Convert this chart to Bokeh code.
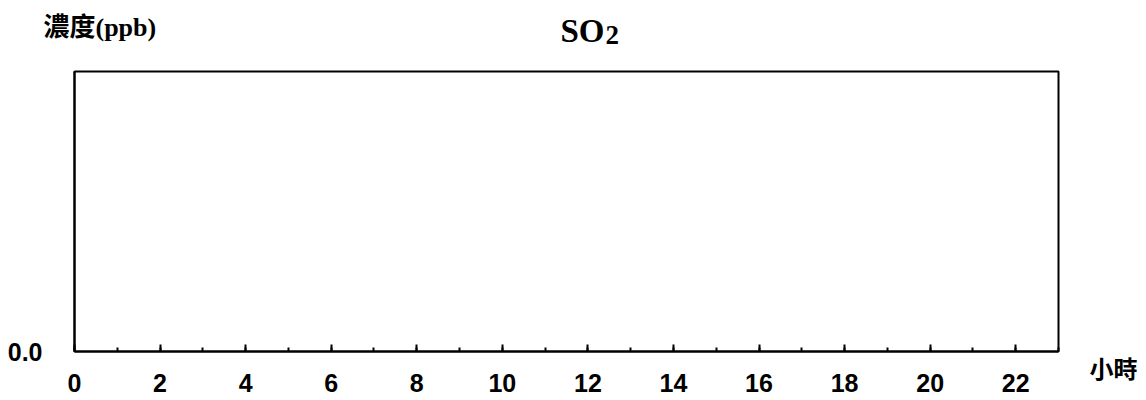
from bokeh.plotting import figure
from bokeh.layouts import column, row
from bokeh.models import (Label, SingleIntervalTicker, FixedTicker, PrintfTickFormatter,
                          Range1d, LinearAxis)
from bokeh.embed import file_html
from bokeh.resources import INLINE

# Data (chart is empty: no measurements)
hours = []
so2_ppb = []
y_ticks = [0.0]
title_main = "SO"
title_sub = "2"
y_title = "濃度(ppb)"
x_title = "小時"

TOTAL_W = 1144
TOP_H = 67
FL, FW, FH = 74, 984, 280
BT, BB = 4, 48
MAIN_W = FL + FW + 4
MAIN_H = BT + FH + BB


def text_panel(w, h, **kw):
    f = figure(width=w, height=h, output_backend="svg", toolbar_location=None,
               x_range=Range1d(0, w), y_range=Range1d(h, 0),
               x_axis_type=None, y_axis_type=None, **kw)
    f.outline_line_color = None
    f.xgrid.visible = False
    f.ygrid.visible = False
    f.background_fill_color = "white"
    f.border_fill_color = "white"
    return f


# Top strip: y-axis title and chart title
top = text_panel(TOTAL_W, TOP_H, min_border_left=0, min_border_right=0,
                 min_border_top=0, min_border_bottom=0)
top.add_layout(Label(x=43, y=27, text=y_title,
                     text_font="'Liberation Serif', 'Noto Sans CJK TC'", text_font_style="bold",
                     text_font_size="26px", text_align="left", text_baseline="middle",
                     text_color="black"))
top.add_layout(Label(x=560, y=30, text=title_main,
                     text_font="Liberation Serif", text_font_style="bold", text_font_size="33px",
                     text_align="left", text_baseline="middle", text_color="black"))
top.add_layout(Label(x=605, y=34, text=title_sub,
                     text_font="Liberation Serif", text_font_style="bold", text_font_size="27px",
                     text_align="left", text_baseline="middle", text_color="black"))

# Main plot
p = figure(frame_width=FW, frame_height=FH, output_backend="svg", toolbar_location=None,
           x_range=Range1d(0, 23), y_range=Range1d(0, 1),
           min_border_left=FL, min_border_top=BT, min_border_right=4, min_border_bottom=BB)
p.background_fill_color = "white"
p.border_fill_color = "white"
p.outline_line_color = "black"
p.outline_line_width = 2
p.xgrid.visible = False
p.ygrid.visible = False

if hours:
    p.line(hours, so2_ppb, line_color="black")

xa = p.xaxis[0]
xa.ticker = SingleIntervalTicker(interval=2, num_minor_ticks=2)
xa.axis_line_color = "black"
xa.axis_line_width = 2
xa.major_tick_in = 7
xa.major_tick_out = 0
xa.minor_tick_in = 4
xa.minor_tick_out = 0
xa.major_tick_line_width = 2
xa.minor_tick_line_width = 2
xa.major_label_standoff = 22
xa.major_label_text_font = "Liberation Sans"
xa.major_label_text_font_style = "bold"
xa.major_label_text_font_size = "25px"
xa.major_label_text_color = "black"

ya = p.yaxis[0]
ya.ticker = FixedTicker(ticks=y_ticks)
ya.formatter = PrintfTickFormatter(format="%.1f")
ya.axis_line_color = "black"
ya.axis_line_width = 2
ya.major_tick_in = 0
ya.major_tick_out = 0
ya.minor_tick_in = 0
ya.minor_tick_out = 0
ya.major_label_standoff = 32
ya.major_label_text_font = "Liberation Sans"
ya.major_label_text_font_style = "bold"
ya.major_label_text_font_size = "25px"
ya.major_label_text_color = "black"

# Right strip: x-axis title shown as the label of a bare axis level with the x axis
RW = TOTAL_W - MAIN_W
right = text_panel(RW, MAIN_H, min_border_left=0, min_border_right=0,
                   min_border_top=BT, min_border_bottom=BB)
XT_POS = 51
xt = LinearAxis(ticker=FixedTicker(ticks=[XT_POS]),
                major_label_overrides={XT_POS: x_title},
                axis_line_color=None, major_tick_line_color=None, minor_tick_line_color=None,
                major_tick_in=0, major_tick_out=0, major_label_standoff=-2,
                major_label_text_font="Noto Sans CJK TC", major_label_text_font_style="bold",
                major_label_text_font_size="24px", major_label_text_color="black")
right.add_layout(xt, "below")

layout = column(top, row(p, right, spacing=0), spacing=0)
open("out.html", "w").write(file_html(layout, INLINE))
